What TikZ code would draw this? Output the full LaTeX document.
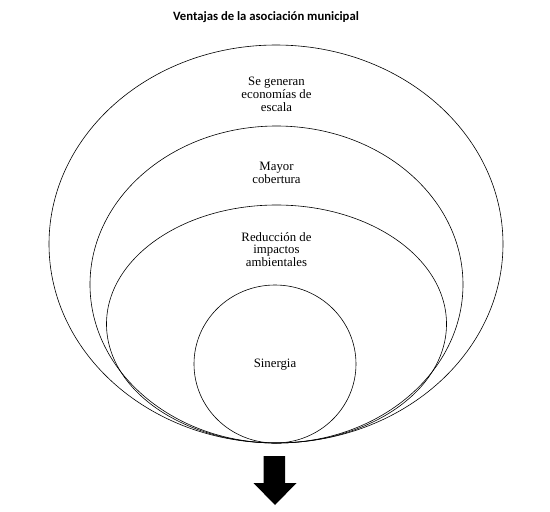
\documentclass[tikz,border=0pt]{standalone}
\usepackage{fontspec}
\setmainfont{Liberation Serif}
\newfontfamily\titlefont{Carlito}
\usepackage{tikz}
\usetikzlibrary{shapes.geometric}

\begin{document}
\begin{tikzpicture}[x=1pt,y=-1pt,
	ring/.style={shape=ellipse,draw=black,line width=0.6pt,inner sep=0pt},
	txt/.style={align=center,font=\fontsize{12.8}{12.8}\selectfont}]
	\useasboundingbox (0,0) rectangle (550,512);
	
	\node[font=\titlefont\bfseries\fontsize{12.7}{14}\selectfont] (t) at (266, 17) {Ventajas de la asociación municipal};
	
	\node[ring,minimum width=454pt,minimum height=398pt] (a) at (276, 244) {};
	\node[ring,minimum width=373pt,minimum height=317pt] (b) at (276.5, 284.5) {};
	\node[ring,minimum width=340pt,minimum height=238pt] (c) at (276.5, 324) {};
	\node[ring,minimum width=162pt,minimum height=158pt] (d) at (275, 364) {};
	
	\node[txt] (ta) at (276.5, 94.5) {Se generan\\economías de\\escala};
	\node[txt] (tb) at (276.5, 172.5) {Mayor\\cobertura};
	\node[txt] (tc) at (276.5, 249.5) {Reducción de\\impactos\\ambientales};
	\node[txt] (td) at (275, 364.5) {Sinergia};
	
	\fill[black] (263.5,456) -- (285,456) -- (285,483) -- (296.5,483) -- (275,505)
		-- (253.5,483) -- (263.5,483) -- cycle;
	
\end{tikzpicture}
\end{document}
